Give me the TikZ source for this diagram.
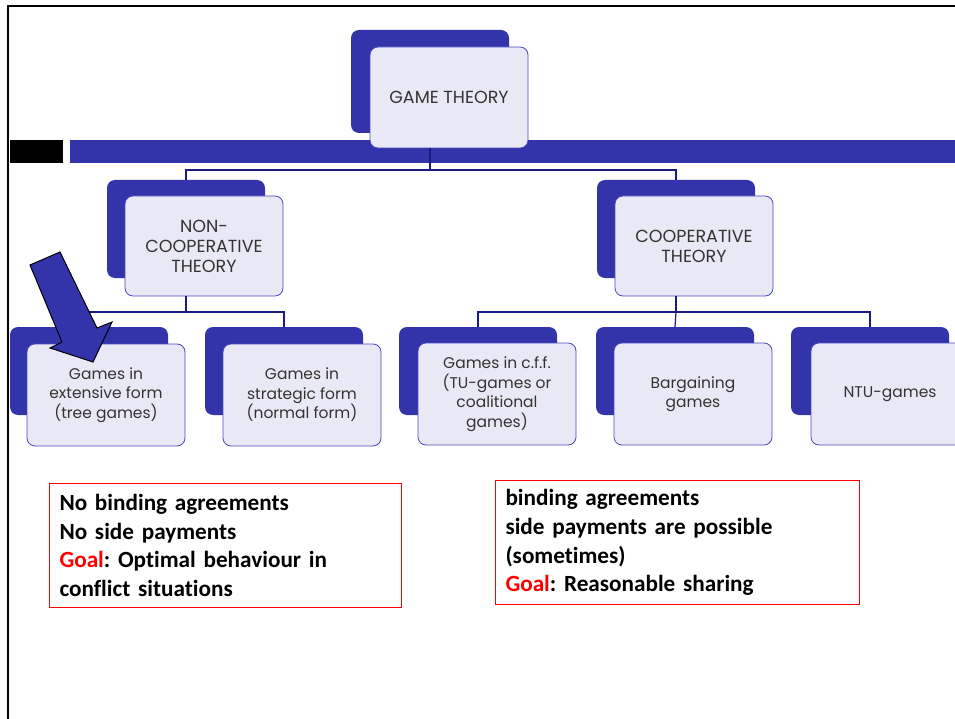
\documentclass[tikz,border=0pt]{standalone}
\usepackage{fontspec}
\setmainfont{Poppins}
\newfontfamily\boxfont[Ligatures=NoCommon]{Carlito}
\definecolor{dblue}{HTML}{3333AA}
\definecolor{lav}{HTML}{E9E9F5}
\definecolor{fblue}{HTML}{4A4AC0}
\definecolor{tgray}{HTML}{333333}
\definecolor{navy}{HTML}{1A1A80}
\begin{document}
\begin{tikzpicture}[x=1pt,y=-1pt,
  back/.style={fill=dblue, rounded corners=8pt, inner sep=0pt, minimum width=158pt},
  front/.style={fill=lav, draw=fblue, line width=0.8pt, rounded corners=8pt, inner sep=0pt,
     minimum width=158pt, align=center, text=tgray, font=\fontsize{15.5}{19.5}\selectfont},
  capsfront/.style={front, font=\fontsize{17.5}{20}\selectfont},
  conn/.style={draw=navy, line width=1.2pt},
  infobox/.style={draw=red, line width=1pt, anchor=north west, inner xsep=10pt, inner ysep=0pt,
     text width=332pt, align=left, font=\boxfont\bfseries\frenchspacing\fontsize{23.2}{28.7}\selectfont}]
\useasboundingbox (0,0) rectangle (955,719);
\clip (0,0) rectangle (955,719);
\fill[white] (0,0) rectangle (955,719);
% frame
\draw[line width=2.5pt] (8,719) -- (8,6) -- (955,6);
% back boxes
\node[back, minimum height=103pt] (gtb) at (430,81.5) {};
\node[back, minimum height=98pt] (ncb) at (186,229) {};
\node[back, minimum height=98pt] (cb) at (676,229) {};
\node[back, minimum height=88pt] (l1b) at (89,371) {};
\node[back, minimum height=88pt] (l2b) at (284,371) {};
\node[back, minimum height=88pt] (l3b) at (478,371) {};
\node[back, minimum height=88pt] (l4b) at (675,371) {};
\node[back, minimum height=88pt] (l5b) at (870,371) {};
% band
\fill[black] (10,140) rectangle (63,163);
\fill[dblue] (70,140) rectangle (955,163);
% front boxes
\node[capsfront, minimum height=101pt] (gt) at (449,97.5) {GAME THEORY};
\node[capsfront, minimum height=100pt] (nc) at (204,246) {NON-\\COOPERATIVE\\THEORY};
\node[capsfront, minimum height=100pt] (c) at (694,246) {COOPERATIVE\\THEORY};
\node[front, minimum height=102pt] (l1) at (106,395) {Games in\\extensive form\\(tree games)};
\node[front, minimum height=102pt] (l2) at (302,395) {Games in\\strategic form\\(normal form)};
\node[front, minimum height=102pt] (l3) at (497,394) {Games in c.f.f.\\(TU-games or\\coalitional\\games)};
\node[front, minimum height=102pt] (l4) at (693,394) {Bargaining\\games};
\node[front, minimum height=102pt] (l5) at (890,394) {NTU-games};
% connectors
\coordinate (bus1) at (0,170);
\coordinate (bus2) at (0,312);
\draw[conn] (gtb.south |- gt.south) -- (gtb.south |- bus1) -| (ncb.north);
\draw[conn] (gtb.south |- bus1) -| (cb.north);
\draw[conn] (ncb.south |- nc.south) -- (ncb.south |- bus2) -| (l1b.north);
\draw[conn] (ncb.south |- bus2) -| (l2b.north);
\draw[conn] (cb.south |- c.south) -- (cb.south |- bus2) -| (l3b.north);
\draw[conn] (cb.south |- bus2) -- (l4b.north);
\draw[conn] (cb.south |- bus2) -| (l5b.north);
% big arrow
\draw[fill=dblue, line width=1pt, line join=miter]
  (30,265) -- (60,252) -- (97,328) -- (112,322) -- (93,362) -- (50,348) -- (62,342) -- cycle;
% info boxes
\node[infobox, minimum width=352pt, minimum height=124pt] (ib1) at (49,483)
  {No binding agreements\\No side payments\\\textcolor{red}{Goal}: Optimal behaviour in\\conflict situations};
\node[infobox, minimum width=364pt, minimum height=124pt, text width=344pt] (ib2) at (495,480)
  {binding agreements\\side payments are possible\\(sometimes)\\\textcolor{red}{Goal}: Reasonable sharing};
\end{tikzpicture}
\end{document}
